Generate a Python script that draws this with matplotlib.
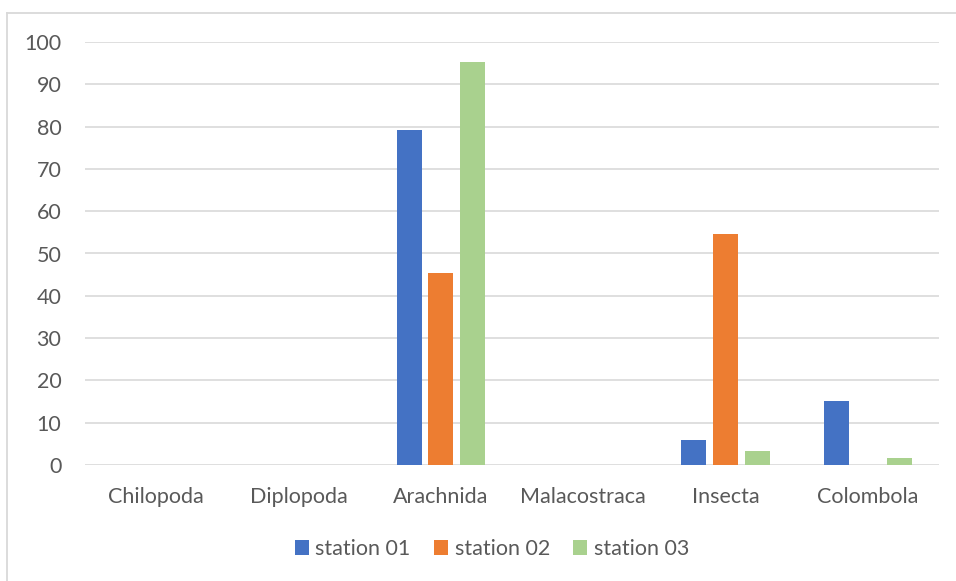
import matplotlib
matplotlib.use("Agg")
import matplotlib.pyplot as plt
import numpy as np
from matplotlib.lines import Line2D

categories = ["Chilopoda", "Diplopoda", "Arachnida", "Malacostraca", "Insecta", "Colombola"]
series_names = ["station 01", "station 02", "station 03"]
station01 = [0, 0, 79.3, 0, 5.8, 15.1]
station02 = [0, 0, 45.5, 0, 54.5, 0]
station03 = [0, 0, 95.2, 0, 3.3, 1.6]
yticks = [0, 10, 20, 30, 40, 50, 60, 70, 80, 90, 100]
colors = ["#4472C4", "#ED7D31", "#A9D18E"]

plt.rcParams['font.family'] = ['Lato', 'DejaVu Sans']
W, H = 956, 581
fig = plt.figure(figsize=(W/100, H/100), dpi=100)
ax = fig.add_axes([85/W, 1-465/H, (939-85)/W, (465-42)/H])

x = np.arange(len(categories))
bw = 0.175
step = 0.222
for i, (vals, name) in enumerate(zip([station01, station02, station03], series_names)):
    ax.bar(x + (i-1)*step, vals, width=bw, color=colors[i], label=name, zorder=3)

ax.set_xlim(-0.5, len(categories)-0.5)
ax.set_ylim(0, 100)
ax.set_yticks(yticks)
ax.set_xticks(x)
ax.set_xticklabels(categories)
ax.grid(axis='y', color='#D9D9D9', linewidth=1.2, zorder=0)
for s in ax.spines.values():
    s.set_visible(False)
ax.tick_params(axis='both', length=0, labelsize=15.5, colors='#595959')
ax.tick_params(axis='y', pad=17)
ax.tick_params(axis='x', pad=16)

fig.add_artist(Line2D([7/W, 7/W], [0, 1-13/H], color='#D9D9D9', linewidth=1.3))
fig.add_artist(Line2D([7/W, 1.0], [1-13/H, 1-13/H], color='#D9D9D9', linewidth=1.3))

leg = fig.legend(loc='center', bbox_to_anchor=(492/W, 1-549/H), ncol=3, frameon=False,
                 fontsize=15.5, handlelength=0.65, handleheight=0.65, handletextpad=0.3,
                 columnspacing=1.1)
for t in leg.get_texts():
    t.set_color('#595959')

fig.savefig("out.png", dpi=100)
